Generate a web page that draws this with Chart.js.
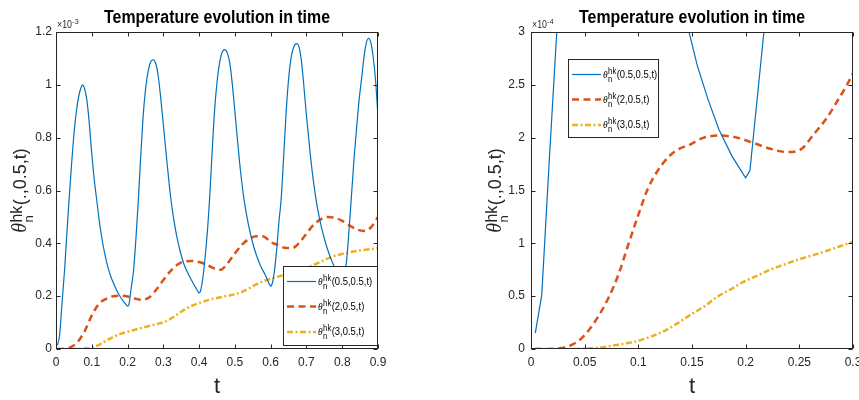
<!DOCTYPE html>
<html>
<head>
<meta charset="utf-8">
<script src="https://cdn.jsdelivr.net/npm/chart.js@4.4.1/dist/chart.umd.min.js"></script>
<style>
html, body { margin: 0; padding: 0; background: #fff; overflow: hidden; }
#wrap { position: relative; width: 859px; height: 400px; overflow: hidden; }
canvas { position: absolute; top: 0; }
#left { left: 0; }
#right { left: 430px; }
</style>
</head>
<body>
<div id="wrap">
	<canvas id="left" width="430" height="400"></canvas>
	<canvas id="right" width="450" height="400"></canvas>
</div>
<script>
// ---- data, left panel (values in 1e-3) ----
const tBlueL = [0.004, 0.010, 0.017, 0.024, 0.030, 0.036, 0.043, 0.050, 0.057, 0.064, 0.070, 0.074, 0.080, 0.086, 0.092, 0.100, 0.107, 0.114, 0.122, 0.130, 0.138, 0.146, 0.155, 0.165, 0.175, 0.187, 0.198, 0.200,
	0.204, 0.210, 0.217, 0.224, 0.230, 0.236, 0.243, 0.250, 0.258, 0.265, 0.272, 0.279, 0.285, 0.292, 0.300, 0.310, 0.320, 0.328, 0.337, 0.347, 0.358, 0.370, 0.385, 0.398, 0.400,
	0.404, 0.410, 0.417, 0.424, 0.429, 0.435, 0.442, 0.450, 0.458, 0.465, 0.472, 0.479, 0.486, 0.493, 0.500, 0.508, 0.516, 0.526, 0.538, 0.552, 0.570, 0.585, 0.598, 0.600,
	0.604, 0.610, 0.617, 0.623, 0.629, 0.636, 0.643, 0.650, 0.658, 0.666, 0.673, 0.680, 0.686, 0.691, 0.700, 0.710, 0.720, 0.730, 0.742, 0.757, 0.775, 0.790, 0.798, 0.800,
	0.804, 0.812, 0.819, 0.826, 0.833, 0.840, 0.847, 0.854, 0.864, 0.873, 0.880, 0.886, 0.893, 0.900];
const blueL = [0.015, 0.051, 0.178, 0.30, 0.43, 0.555, 0.69, 0.81, 0.90, 0.96, 0.99, 1.00, 0.985, 0.945, 0.87, 0.74, 0.64, 0.562, 0.475, 0.405, 0.35, 0.305, 0.268, 0.236, 0.208, 0.183, 0.165, 0.162,
	0.169, 0.23, 0.30, 0.43, 0.56, 0.71, 0.87, 0.98, 1.055, 1.088, 1.095, 1.08, 1.04, 0.96, 0.85, 0.71, 0.58, 0.50, 0.43, 0.37, 0.32, 0.283, 0.245, 0.215, 0.212,
	0.22, 0.265, 0.35, 0.46, 0.562, 0.71, 0.88, 1.01, 1.09, 1.125, 1.133, 1.12, 1.08, 1.00, 0.90, 0.78, 0.67, 0.562, 0.47, 0.39, 0.32, 0.28, 0.241, 0.238,
	0.246, 0.29, 0.38, 0.48, 0.562, 0.72, 0.89, 1.02, 1.11, 1.148, 1.156, 1.14, 1.09, 1.023, 0.884, 0.746, 0.63, 0.54, 0.46, 0.385, 0.32, 0.283, 0.265, 0.262,
	0.27, 0.331, 0.45, 0.583, 0.72, 0.834, 0.94, 1.023, 1.136, 1.176, 1.16, 1.11, 1.02, 0.88];

const tSmoothL = [0.004, 0.02, 0.04, 0.06, 0.08, 0.10, 0.12, 0.14, 0.16, 0.18, 0.20, 0.22, 0.24, 0.26, 0.28, 0.30, 0.32, 0.34, 0.36, 0.38, 0.40, 0.42, 0.44,
	0.46, 0.48, 0.50, 0.52, 0.54, 0.56, 0.58, 0.60, 0.62, 0.64, 0.66, 0.68, 0.70, 0.72, 0.74, 0.76, 0.78, 0.80, 0.82, 0.84, 0.86, 0.88, 0.90];
const redL = [0, 0, 0.006, 0.026, 0.067, 0.127, 0.171, 0.190, 0.200, 0.202, 0.199, 0.191, 0.186, 0.195, 0.224, 0.261, 0.295, 0.320, 0.332, 0.333, 0.329, 0.320, 0.306,
	0.300, 0.325, 0.362, 0.395, 0.417, 0.427, 0.426, 0.405, 0.394, 0.383, 0.382, 0.402, 0.437, 0.470, 0.491, 0.500, 0.496, 0.485, 0.468, 0.453, 0.447, 0.460, 0.500];
const yellowL = [0, 0, 0, 0.001, 0.002, 0.005, 0.016, 0.031, 0.046, 0.057, 0.065, 0.073, 0.080, 0.087, 0.094, 0.101, 0.114, 0.132, 0.150, 0.164, 0.174, 0.183, 0.190,
	0.196, 0.202, 0.207, 0.216, 0.230, 0.245, 0.257, 0.266, 0.274, 0.282, 0.290, 0.298, 0.308, 0.318, 0.330, 0.343, 0.353, 0.360, 0.366, 0.371, 0.375, 0.378, 0.382];

// ---- data, right panel (values in 1e-4) ----
const tBlueR = [0.004, 0.010, 0.017, 0.024, 0.030, 0.036, 0.050, 0.074, 0.100, 0.114, 0.122, 0.130, 0.138, 0.146, 0.155, 0.165, 0.175, 0.187, 0.198, 0.200, 0.204, 0.217, 0.224, 0.230, 0.250, 0.272, 0.300];
const blueR = [0.15, 0.51, 1.78, 3.0, 4.3, 5.55, 8.1, 10.0, 7.4, 5.62, 4.75, 4.05, 3.5, 3.05, 2.68, 2.36, 2.08, 1.83, 1.65, 1.62, 1.69, 3.0, 4.3, 5.6, 9.8, 10.95, 8.5];

const tRedR = [0.004, 0.020, 0.0285, 0.038, 0.047, 0.0596, 0.072, 0.0813, 0.0907, 0.100, 0.109, 0.1217, 0.134, 0.149, 0.161, 0.1764, 0.192, 0.2074, 0.223, 0.2385, 0.251, 0.2633, 0.2758, 0.285, 0.2944, 0.300];
const redR = [0, 0, 0.01, 0.04, 0.10, 0.26, 0.48, 0.70, 0.99, 1.27, 1.52, 1.74, 1.87, 1.94, 2.0, 2.02, 2.0, 1.95, 1.895, 1.864, 1.886, 2.03, 2.19, 2.34, 2.50, 2.61];

const tYellowR = [0.004, 0.030, 0.050, 0.065, 0.075, 0.087, 0.099, 0.111, 0.124, 0.136, 0.148, 0.161, 0.173, 0.186, 0.198, 0.211, 0.223, 0.236, 0.248, 0.260, 0.273, 0.286, 0.300];
const yellowR = [0, 0, 0.004, 0.015, 0.03, 0.05, 0.075, 0.115, 0.17, 0.24, 0.32, 0.40, 0.49, 0.565, 0.635, 0.695, 0.75, 0.80, 0.843, 0.88, 0.92, 0.965, 1.015];

// ---- ticks and labels ----
const xTicksL = [0, 0.1, 0.2, 0.3, 0.4, 0.5, 0.6, 0.7, 0.8, 0.9];
const yTicksL = [0, 0.2, 0.4, 0.6, 0.8, 1, 1.2];
const xTicksR = [0, 0.05, 0.1, 0.15, 0.2, 0.25, 0.3];
const yTicksR = [0, 0.5, 1, 1.5, 2, 2.5, 3];
const seriesLabels = ["(0.5,0.5,t)", "(2,0.5,t)", "(3,0.5,t)"];
const titleText = "Temperature evolution in time";

const axisCol = "#262626";
const colBlue = "#0072BD", colRed = "#D95319", colYellow = "#EDB120";
const tickFont = { family: '"Liberation Sans Narrow", "Liberation Sans", Arial, sans-serif', size: 12 };

function pts(ts, vs) {
	return ts.map((t, i) => ({ x: t, y: vs[i] }));
}

// theta_n^hk(...) label, returns its width
function drawTheta(ctx, x, y, main, f, draw) {
	ctx.font = "italic " + f.th + 'px "Liberation Serif"';
	let w = ctx.measureText("θ").width;
	if (draw) ctx.fillText("θ", x, y);
	ctx.font = f.sup + 'px "Liberation Sans"';
	const ws = ctx.measureText("hk").width;
	if (draw) ctx.fillText("hk", x + w + 0.5, y + f.supDy);
	ctx.font = f.sub + 'px "Liberation Sans"';
	const wn = ctx.measureText("n").width;
	if (draw) ctx.fillText("n", x + w + 0.5, y + f.subDy);
	w += Math.max(ws, wn) + 1;
	ctx.font = f.main + 'px "Liberation Sans"';
	if (draw) ctx.fillText(main, x + w, y);
	return w + ctx.measureText(main).width;
}

const decor = {
	id: "decor",
	afterDraw(chart, args, o) {
		const ctx = chart.ctx;
		const a = chart.chartArea;
		const xs = chart.scales.x, ys = chart.scales.y;
		const L = Math.round(a.left) + 0.5, R = Math.round(a.right) - 0.5;
		const T = Math.round(a.top) + 0.5, B = Math.round(a.bottom) - 0.5;
		ctx.save();
		ctx.strokeStyle = axisCol;
		ctx.lineWidth = 1;
		ctx.setLineDash([]);
		ctx.beginPath();
		// inward ticks on all four sides
		xs.ticks.forEach((t) => {
			const px = Math.round(xs.getPixelForValue(t.value)) + 0.5;
			ctx.moveTo(px, B); ctx.lineTo(px, B - 4);
			ctx.moveTo(px, T); ctx.lineTo(px, T + 4);
		});
		ys.ticks.forEach((t) => {
			const py = Math.round(ys.getPixelForValue(t.value)) + 0.5;
			ctx.moveTo(L, py); ctx.lineTo(L + 4, py);
			ctx.moveTo(R, py); ctx.lineTo(R - 4, py);
		});
		ctx.stroke();
		ctx.strokeRect(L, T, R - L, B - T);

		// legend
		const [bx, by, bw, bh] = o.legend;
		ctx.fillStyle = "#fff";
		ctx.fillRect(bx, by, bw, bh);
		ctx.strokeStyle = axisCol;
		ctx.strokeRect(bx + 0.5, by + 0.5, bw, bh);
		const rows = [15.5, 40.5, 66];
		chart.data.datasets.forEach((ds, i) => {
			const ry = by + rows[i];
			ctx.save();
			ctx.strokeStyle = ds.borderColor;
			ctx.lineWidth = ds.borderWidth;
			ctx.setLineDash(ds.borderDash || []);
			ctx.beginPath();
			ctx.moveTo(bx + 4, ry);
			ctx.lineTo(bx + 33, ry);
			ctx.stroke();
			ctx.restore();
			ctx.save();
			ctx.translate(bx + 35, ry + 3);
			ctx.scale(0.86, 1);
			ctx.fillStyle = "#000";
			ctx.textBaseline = "alphabetic";
			drawTheta(ctx, 0, 0, seriesLabels[i], { th: 11, sup: 9, sub: 9, main: 11, supDy: -4, subDy: 4 }, true);
			ctx.restore();
		});

		// title
		const cx = (a.left + a.right) / 2;
		ctx.fillStyle = "#000";
		ctx.textAlign = "center";
		ctx.textBaseline = "alphabetic";
		ctx.font = 'bold 18px "Liberation Sans"';
		ctx.fillText(titleText, cx, 23, 226);

		// x axis title
		ctx.fillStyle = axisCol;
		ctx.font = '22px "Liberation Sans"';
		ctx.fillText("t", cx, 393);

		// exponent
		ctx.textAlign = "left";
		ctx.save();
		ctx.translate(a.left + 1, a.top - 4);
		ctx.scale(0.88, 1);
		ctx.font = '10px "Liberation Sans"';
		ctx.fillText("×10", 0, 0);
		const ew = ctx.measureText("×10").width;
		ctx.font = '8px "Liberation Sans"';
		ctx.fillText(o.expo, ew + 0.5, -4);
		ctx.restore();

		// y axis title
		ctx.save();
		ctx.translate(o.ylabX, (a.top + a.bottom) / 2);
		ctx.rotate(-Math.PI / 2);
		const F = { th: 20, sup: 16, sub: 13, main: 18, supDy: -4, subDy: 7 };
		const W = drawTheta(ctx, 0, 0, "(.,0.5,t)", F, false);
		drawTheta(ctx, -W / 2, 0, "(.,0.5,t)", F, true);
		ctx.restore();
		ctx.restore();
	},
};

function series(data, color, width, dash, straight) {
	const ds = {
		data: data,
		borderColor: color,
		borderWidth: width,
		borderDash: dash,
		pointRadius: 0,
		fill: false,
	};
	if (straight) ds.tension = 0;
	else ds.cubicInterpolationMode = "monotone";
	return ds;
}

function makeChart(id, o) {
	return new Chart(document.getElementById(id), {
		type: "line",
		data: {
			datasets: [
				series(o.blue, colBlue, 1.2, [], o.blueStraight),
				series(o.red, colRed, 2.5, [7, 4.5]),
				series(o.yellow, colYellow, 2.5, [6, 2.5, 2, 2.5]),
			],
		},
		options: {
			responsive: false,
			animation: false,
			events: [],
			layout: { padding: { left: 0, top: o.top, right: o.padRight, bottom: 0 } },
			plugins: {
				legend: { display: false },
				tooltip: { enabled: false },
				title: { display: false },
				decor: { legend: o.legend, expo: o.expo, ylabX: o.ylabX },
			},
			scales: {
				x: {
					type: "linear",
					min: 0,
					max: o.xTicks[o.xTicks.length - 1],
					afterBuildTicks: (s) => { s.ticks = o.xTicks.map((v) => ({ value: v })); },
					afterFit: (s) => { s.height = 51; },
					grid: { display: false, drawTicks: false },
					border: { display: false },
					ticks: { font: tickFont, color: axisCol, padding: 6, maxRotation: 0, autoSkip: false, callback: (v) => String(v) },
				},
				y: {
					type: "linear",
					min: 0,
					max: o.yTicks[o.yTicks.length - 1],
					afterBuildTicks: (s) => { s.ticks = o.yTicks.map((v) => ({ value: v })); },
					afterFit: (s) => { s.width = o.yWidth; },
					grid: { display: false, drawTicks: false },
					border: { display: false },
					ticks: { font: tickFont, color: axisCol, padding: o.yPad, autoSkip: false, callback: (v) => String(v) },
				},
			},
		},
		plugins: [decor],
	});
}

const leftChart = makeChart("left", {
	blue: pts(tBlueL, blueL),
	red: pts(tSmoothL, redL),
	yellow: pts(tSmoothL, yellowL),
	blueStraight: false,
	xTicks: xTicksL,
	yTicks: yTicksL,
	top: 32,
	padRight: 52,
	yWidth: 56,
	yPad: 4,
	legend: [283, 266, 94, 79],
	expo: "-3",
	ylabX: 26,
});

const rightChart = makeChart("right", {
	blue: pts(tBlueR, blueR),
	red: pts(tRedR, redR),
	yellow: pts(tYellowR, yellowR),
	blueStraight: true,
	xTicks: xTicksR,
	yTicks: yTicksR,
	top: 32,
	padRight: 27,
	yWidth: 101,
	yPad: 6,
	legend: [138, 59, 90, 78],
	expo: "-4",
	ylabX: 71,
});
</script>
</body>
</html>
